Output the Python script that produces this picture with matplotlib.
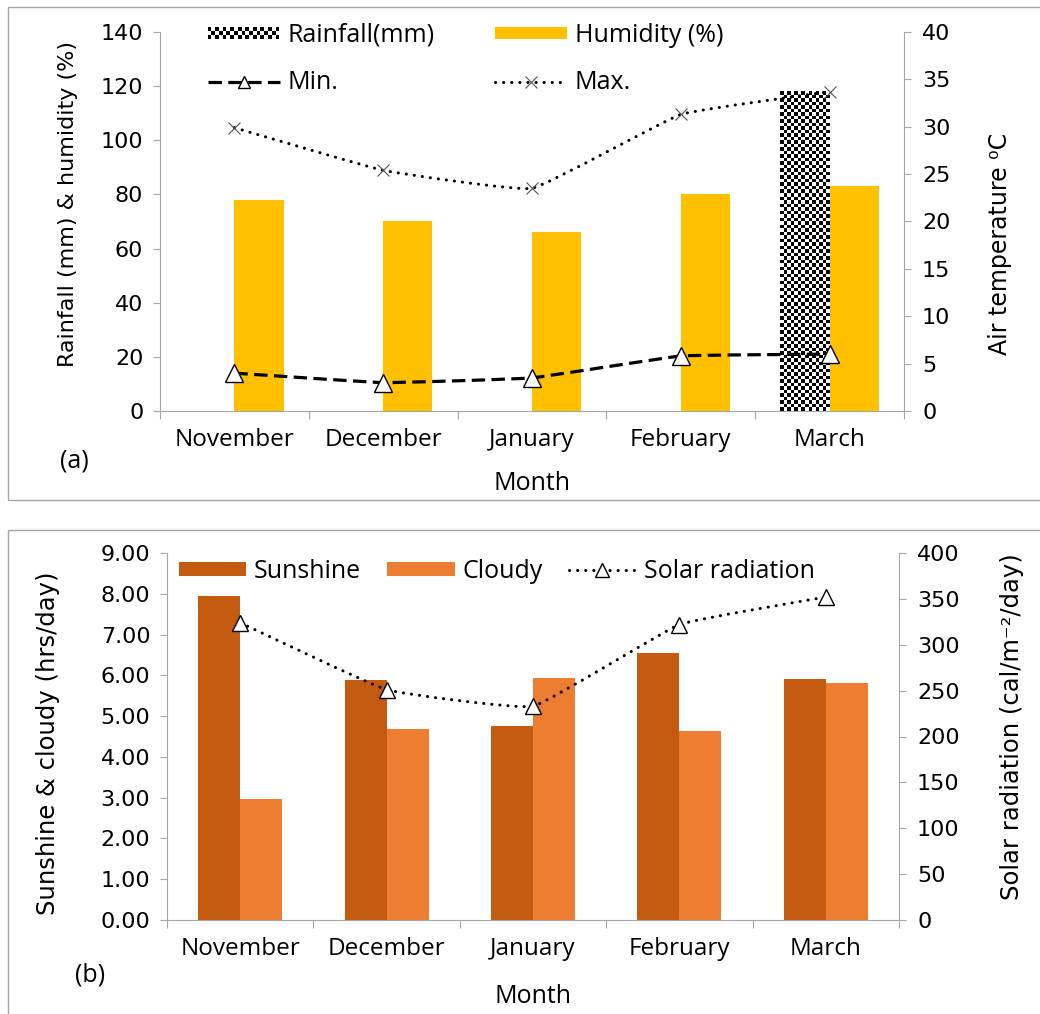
import matplotlib
matplotlib.use('Agg')
import matplotlib.pyplot as plt
import numpy as np
from matplotlib.path import Path
from matplotlib.patches import PathPatch, Rectangle
from matplotlib.lines import Line2D
from matplotlib.legend_handler import HandlerBase
from matplotlib.colors import ListedColormap
from matplotlib.ticker import FormatStrFormatter, FixedLocator, MultipleLocator

months = ['November', 'December', 'January', 'February', 'March']

# (a) rainfall / humidity on the left axis, air temperature on the right
rainfall = [0, 0, 0, 0, 118]
humidity = [78, 70, 66, 80, 83]
temp_min = [4.0, 3.0, 3.5, 5.8, 6.0]
temp_max = [29.9, 25.4, 23.5, 31.3, 33.7]

# (b) sunshine / cloudy hours and solar radiation
sunshine = [7.95, 5.88, 4.75, 6.55, 5.92]
cloudy = [2.97, 4.68, 5.93, 4.63, 5.82]
solar = [324, 251, 233, 322, 352]

GREY = '#a6a6a6'
CAL = 'Open Sans'
DOTS = (0, (0.05, 2.6))
checker_cmap = ListedColormap(['black', 'white'])


def smooth_path(xs, ys, k=20.0):
    # lightly smoothed line through the points (cubic bezier segments)
    pts = np.column_stack([xs, ys]).astype(float)
    ext = np.vstack([pts[0], pts, pts[-1]])
    verts = [pts[0]]
    codes = [Path.MOVETO]
    for i in range(len(pts) - 1):
        p0, p1, p2, p3 = ext[i], ext[i + 1], ext[i + 2], ext[i + 3]
        verts += [p1 + (p2 - p0) / k, p2 - (p3 - p1) / k, p2]
        codes += [Path.CURVE4] * 3
    return Path(verts, codes)


def checker_fill(ax, bar, cell=3.5):
    h = bar.get_height()
    if h <= 0:
        return
    bb = bar.get_window_extent()
    ncol = max(1, int(round(bb.width / cell)))
    nrow = max(1, int(round(bb.height / cell)))
    grid = np.indices((nrow, ncol)).sum(axis=0) % 2
    x0 = bar.get_x()
    ax.imshow(grid, cmap=checker_cmap, extent=(x0, x0 + bar.get_width(), 0, h),
              aspect='auto', interpolation='nearest', origin='lower', zorder=2)


class CheckerHandler(HandlerBase):
    def create_artists(self, legend, orig_handle, xdescent, ydescent,
                       width, height, fontsize, trans):
        nrow = 3
        cell = height / nrow
        ncol = int(width // cell)
        out = [Rectangle((-xdescent, -ydescent), ncol * cell, height,
                         facecolor='white', edgecolor='none', transform=trans)]
        for i in range(nrow):
            for j in range(ncol):
                if (i + j) % 2 == 0:
                    out.append(Rectangle((-xdescent + j * cell, -ydescent + i * cell),
                                         cell, cell, facecolor='black',
                                         edgecolor='none', transform=trans))
        return out


def style_axes(ax, axr):
    for s in ['top', 'right']:
        ax.spines[s].set_visible(False)
    for s in ['top', 'left', 'bottom']:
        axr.spines[s].set_visible(False)
    for s in ['left', 'bottom']:
        ax.spines[s].set_color(GREY)
    axr.spines['right'].set_color(GREY)
    ax.set_xlim(-0.5, len(months) - 0.5)
    ax.xaxis.set_major_locator(FixedLocator(np.arange(len(months) + 1) - 0.5))
    ax.xaxis.set_minor_locator(FixedLocator(np.arange(len(months))))
    ax.set_xticklabels([], minor=False)
    ax.set_xticklabels(months, minor=True, fontfamily=CAL, fontsize=17.5)
    ax.tick_params(axis='x', which='major', length=6, color=GREY, direction='out')
    ax.tick_params(axis='x', which='minor', length=0, pad=12)
    ax.tick_params(axis='y', length=5, color=GREY, labelsize=16, pad=7)
    axr.tick_params(axis='y', length=5, color=GREY, labelsize=16, pad=8)


fig = plt.figure(figsize=(10.4, 10.14), dpi=100)
x = np.arange(len(months))

# panel borders
fig.add_artist(Rectangle((8 / 1040, 514 / 1014), 1.2, 493 / 1014, transform=fig.transFigure,
                         fill=False, edgecolor=GREY, linewidth=1))
fig.add_artist(Rectangle((8 / 1040, -0.05), 1.2, (484 / 1014) + 0.05, transform=fig.transFigure,
                         fill=False, edgecolor=GREY, linewidth=1))

# ---------------- (a) ----------------
ax1 = fig.add_axes([160 / 1040, 603 / 1014, 744 / 1040, 379 / 1014])
ax2 = ax1.twinx()
w = 0.33
rain_bars = ax1.bar(x - w / 2, rainfall, w, color='white', linewidth=0, zorder=1)
hum_bars = ax1.bar(x + w / 2, humidity, w, color='#ffc000', linewidth=0, zorder=2,
                   label='Humidity (%)')
ax1.set_ylim(0, 140)
ax1.yaxis.set_major_locator(MultipleLocator(20))
style_axes(ax1, ax2)
for b in rain_bars:
    checker_fill(ax1, b)
ax1.set_xlim(-0.5, len(months) - 0.5)
ax1.set_ylim(0, 140)

ax2.add_patch(PathPatch(smooth_path(x, temp_min), fill=False, edgecolor='black',
                        linewidth=2.3, linestyle=(0, (4.2, 2.0)), zorder=3))
ax2.add_patch(PathPatch(smooth_path(x, temp_max), fill=False, edgecolor='black',
                        linewidth=2.2, linestyle=DOTS, capstyle='round', zorder=3))
ax2.plot(x, temp_min, linestyle='none', marker='^', markersize=13, markerfacecolor='white',
         markeredgecolor='black', markeredgewidth=1.0, zorder=4)
ax2.plot(x, temp_max, linestyle='none', marker='x', markersize=9, markeredgecolor='#555555',
         markeredgewidth=0.8, zorder=4)
ax2.set_ylim(0, 40)
ax2.yaxis.set_major_locator(MultipleLocator(5))

ax1.set_ylabel('Rainfall (mm) & humidity (%)', fontsize=16)
ax1.yaxis.set_label_coords(-0.11, 0.546)
ax2.set_ylabel('Air temperature \u2070C', fontsize=17)
ax2.yaxis.set_label_coords(1.113, 0.44)
ax1.set_xlabel('Month', fontfamily=CAL, fontsize=18, labelpad=14)
fig.text(74 / 1040, 1 - 461 / 1014, '(a)', fontfamily=CAL, fontsize=18,
         ha='center', va='center')

rain_proxy = Rectangle((0, 0), 1, 1, facecolor='white')
min_proxy = Line2D([], [], color='black', linewidth=2.3, dashes=(4.2, 2.0), marker='^',
                   markersize=9, markerfacecolor='white', markeredgecolor='black',
                   markeredgewidth=1.0)
max_proxy = Line2D([], [], color='black', linewidth=2.2, linestyle=DOTS,
                   dash_capstyle='round', marker='x', markersize=9,
                   markeredgecolor='#555555', markeredgewidth=0.8)
ax2.legend([rain_proxy, min_proxy, hum_bars, max_proxy],
           ['Rainfall(mm)', 'Min.', 'Humidity (%)', 'Max.'],
           handler_map={rain_proxy: CheckerHandler()},
           ncol=2, loc='upper left', bbox_to_anchor=(0.064, 1.024), frameon=False,
           borderpad=0, borderaxespad=0, handlelength=2.9, handleheight=0.32,
           handletextpad=0.3, columnspacing=2.4, labelspacing=0.9, numpoints=1,
           prop={'family': CAL, 'size': 18})

# ---------------- (b) ----------------
ax3 = fig.add_axes([167 / 1040, 94 / 1014, 732 / 1040, 367 / 1014])
ax4 = ax3.twinx()
wb = 0.287
sun_bars = ax3.bar(x - wb / 2, sunshine, wb, color='#c55a11', linewidth=0, label='Sunshine')
cld_bars = ax3.bar(x + wb / 2, cloudy, wb, color='#ed7d31', linewidth=0, label='Cloudy')
ax3.set_ylim(0, 9)
ax3.yaxis.set_major_locator(MultipleLocator(1))
ax3.yaxis.set_major_formatter(FormatStrFormatter('%.2f'))
style_axes(ax3, ax4)

ax4.add_patch(PathPatch(smooth_path(x, solar), fill=False, edgecolor='black',
                        linewidth=2.2, linestyle=DOTS, capstyle='round', zorder=3))
ax4.plot(x, solar, linestyle='none', marker='^', markersize=12, markerfacecolor='white',
         markeredgecolor='black', markeredgewidth=1.0, zorder=4)
ax4.set_ylim(0, 400)
ax4.yaxis.set_major_locator(MultipleLocator(50))

ax3.set_ylabel('Sunshine & cloudy (hrs/day)', fontsize=17.5)
ax3.yaxis.set_label_coords(-0.146, 0.482)
ax4.set_ylabel('Solar radiation (cal/m\u207b\u00b2/day)', fontsize=17.5)
ax4.yaxis.set_label_coords(1.138, 0.526)
ax3.set_xlabel('Month', fontfamily=CAL, fontsize=18, labelpad=17)
fig.text(90 / 1040, 1 - 975 / 1014, '(b)', fontfamily=CAL, fontsize=18,
         ha='center', va='center')

solar_proxy = Line2D([], [], color='black', linewidth=2.2, linestyle=DOTS,
                     dash_capstyle='round', marker='^', markersize=10,
                     markerfacecolor='white', markeredgecolor='black', markeredgewidth=1.0)
ax4.legend([sun_bars, cld_bars, solar_proxy], ['Sunshine', 'Cloudy', 'Solar radiation'],
           ncol=3, loc='upper left', bbox_to_anchor=(0.016, 0.985), frameon=False,
           borderpad=0, borderaxespad=0, handlelength=2.7, handleheight=0.48,
           handletextpad=0.3, columnspacing=1.05, numpoints=1,
           prop={'family': CAL, 'size': 18})

fig.savefig('out.png', dpi=100)
